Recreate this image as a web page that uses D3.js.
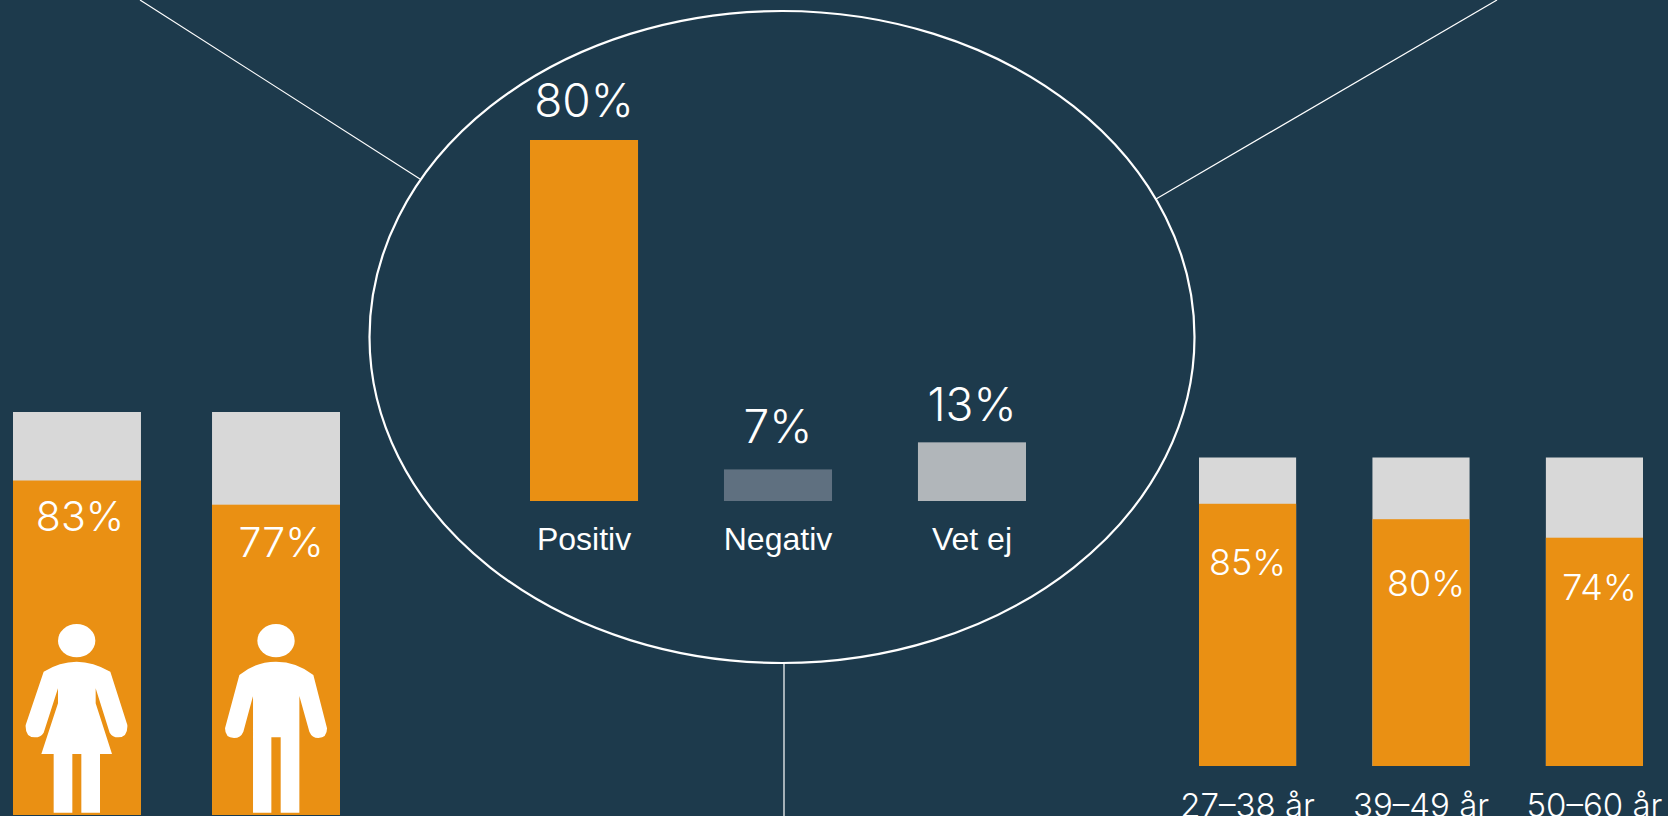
<!DOCTYPE html>
<html>
<head>
<meta charset="utf-8">
<script src="https://cdn.jsdelivr.net/npm/d3@7"></script>
<style>
html, body { margin: 0; padding: 0; background: #1d3a4c; overflow: hidden; }
svg { display: block; }
.pct { fill: #fff; font-family: Inter, sans-serif; font-weight: 300; text-anchor: middle; }
</style>
</head>
<body>
<div id="chart"></div>
<script>
// center chart
var answers = ["Positiv", "Negativ", "Vet ej"];
var answerValues = [80, 7, 13];

// gender bars
var genders = ["Kvinna", "Man"];
var genderValues = [83, 77];

// age bars
var ages = ["27–38 år", "39–49 år", "50–60 år"];
var ageValues = [85, 80, 74];

var svgWidth = 1668;
var svgHeight = 816;
var orange = "#ea9013";
var grey = "#d8d8d8";
var answerColors = [orange, "#5f7080", "#b1b6ba"];

var svg = d3.select("#chart")
    .append("svg")
    .attr("width", svgWidth)
    .attr("height", svgHeight);

svg.append("rect")
    .attr("width", svgWidth)
    .attr("height", svgHeight)
    .attr("fill", "#1d3a4c");

//connector lines and the big ellipse
var connectors = [[140, 0, 420, 179], [1497, 0, 1156, 199], [784, 663, 784, 816]];
svg.selectAll(".connector")
    .data(connectors)
    .enter()
    .append("line")
    .attr("class", "connector")
    .attr("x1", d => d[0])
    .attr("y1", d => d[1])
    .attr("x2", d => d[2])
    .attr("y2", d => d[3])
    .attr("stroke", "#fff")
    .attr("stroke-width", 1.2);

svg.append("ellipse")
    .attr("cx", 782)
    .attr("cy", 337)
    .attr("rx", 412.5)
    .attr("ry", 326)
    .attr("fill", "none")
    .attr("stroke", "#fff")
    .attr("stroke-width", 2.2);

//center bars
var xAnswer = d3.scaleBand().domain(answers).range([530, 1026]).paddingInner(0.443);
var yAnswer = d3.scaleLinear().domain([0, 80]).range([501, 140]);
var answerLift = [23, 26, 21];

svg.selectAll(".answer")
    .data(answers)
    .enter()
    .append("rect")
    .attr("class", "answer")
    .attr("x", d => xAnswer(d))
    .attr("width", xAnswer.bandwidth())
    .attr("y", (d, i) => yAnswer(answerValues[i]))
    .attr("height", (d, i) => yAnswer(0) - yAnswer(answerValues[i]))
    .attr("fill", (d, i) => answerColors[i]);

svg.selectAll(".answerPct")
    .data(answers)
    .enter()
    .append("text")
    .attr("class", "pct answerPct")
    .attr("x", d => xAnswer(d) + xAnswer.bandwidth() / 2)
    .attr("y", (d, i) => yAnswer(answerValues[i]) - answerLift[i])
    .style("font-size", "46px")
    .text((d, i) => answerValues[i] + "%");

var answerAxis = svg.append("g")
    .attr("transform", "translate(0, 501)")
    .call(d3.axisBottom(xAnswer).tickSize(0).tickPadding(26));
answerAxis.select(".domain").remove();
answerAxis.selectAll("text")
    .attr("fill", "#fff")
    .style("font-family", "'Liberation Sans', Arial, sans-serif")
    .style("font-size", "32px");

//stacked bars, orange part over a grey 100% bar
function drawStack(names, values, x, y, nudge, fontSize) {
    var g = svg.append("g");
    g.selectAll(".full")
        .data(names)
        .enter()
        .append("rect")
        .attr("x", d => x(d))
        .attr("width", x.bandwidth())
        .attr("y", y(100))
        .attr("height", y(0) - y(100))
        .attr("fill", grey);
    g.selectAll(".part")
        .data(names)
        .enter()
        .append("rect")
        .attr("x", d => x(d))
        .attr("width", x.bandwidth())
        .attr("y", (d, i) => y(values[i]))
        .attr("height", (d, i) => y(0) - y(values[i]))
        .attr("fill", orange);
    g.selectAll("text")
        .data(names)
        .enter()
        .append("text")
        .attr("class", "pct")
        .attr("x", (d, i) => x(d) + x.bandwidth() / 2 + nudge[i][0])
        .attr("y", (d, i) => y(values[i]) + nudge[i][1])
        .style("font-size", fontSize)
        .text((d, i) => values[i] + "%");
}

var xGender = d3.scaleBand().domain(genders).range([13, 340]).paddingInner(0.357);
var yGender = d3.scaleLinear().domain([0, 100]).range([815, 412]);
drawStack(genders, genderValues, xGender, yGender, [[3, 50], [5, 52]], "41px");

var xAge = d3.scaleBand().domain(ages).range([1199, 1643]).paddingInner(0.44);
var yAge = d3.scaleLinear().domain([0, 100]).range([766, 457.5]);
drawStack(ages, ageValues, xAge, yAge, [[0, 71], [5, 77], [5, 62]], "36px");

var ageAxis = svg.append("g")
    .attr("transform", "translate(0, 766)")
    .call(d3.axisBottom(xAge).tickSize(0).tickPadding(28));
ageAxis.select(".domain").remove();
ageAxis.selectAll("text")
    .attr("fill", "#fff")
    .style("font-family", "Inter, sans-serif")
    .style("font-weight", 300)
    .style("font-size", "33px");

//person icons, drawn in 3x units relative to the bar's left edge and y=400
var womanPath = "M92 815Q140 785 191 785Q240 785 292 815L343 975Q345 1012 316 1012Q298 1012 290 998L248 865L248 910L297 1062L261 1062L261 1238L205 1238L205 1062L178 1062L178 1238L122 1238L122 1062L85 1062L135 910L135 865L92 998Q84 1012 65 1012Q36 1012 38 975Z";
var manPath = "M82 825Q130 785 192 785Q254 785 304 825L345 985Q345 1014 319 1014Q300 1014 292 995L262 888L262 1238L206 1238L206 1012L178 1012L178 1238L123 1238L123 888L94 995Q86 1014 66 1014Q39 1014 39 985Z";

[[womanPath, xGender(genders[0]), 191], [manPath, xGender(genders[1]), 192]].forEach(icon => {
    var g = svg.append("g")
        .attr("transform", `translate(${icon[1]}, 400) scale(${1 / 3})`)
        .attr("fill", "#fff");
    g.append("ellipse")
        .attr("cx", icon[2])
        .attr("cy", 722)
        .attr("rx", 56)
        .attr("ry", 50);
    g.append("path").attr("d", icon[0]);
});
</script>
</body>
</html>
